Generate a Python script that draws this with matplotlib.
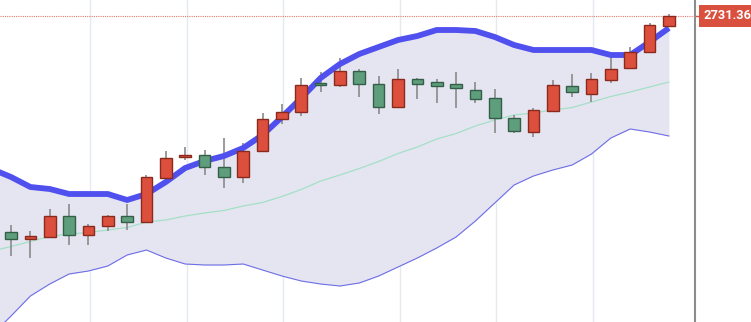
import matplotlib
matplotlib.use("Agg")
import matplotlib.pyplot as plt
from matplotlib.patches import Rectangle
from matplotlib.lines import Line2D
import matplotlib.transforms as mtransforms

# ---- data ----
opens  = [2515.3, 2508.3, 2510.3, 2531.0, 2512.3, 2521.3, 2531.0, 2525.3, 2569.3, 2589.7,
          2591.7, 2580.3, 2570.3, 2596.3, 2628.0, 2635.3, 2663.7, 2662.0, 2676.0, 2663.0,
          2640.3, 2667.7, 2664.7, 2662.7, 2657.0, 2648.7, 2629.3, 2615.3, 2636.3, 2661.0,
          2653.5, 2667.0, 2678.7, 2695.3, 2721.0]
highs  = [2521.7, 2515.7, 2537.7, 2543.0, 2523.0, 2532.0, 2543.0, 2572.0, 2596.3, 2599.7,
          2597.0, 2608.7, 2603.7, 2633.7, 2642.7, 2668.7, 2675.3, 2688.7, 2677.7, 2671.0,
          2677.7, 2669.3, 2667.7, 2675.3, 2664.7, 2658.0, 2632.0, 2638.7, 2667.0, 2672.7,
          2673.7, 2692.0, 2700.3, 2723.7, 2733.0]
lows   = [2491.0, 2488.7, 2510.3, 2501.7, 2501.7, 2516.3, 2517.0, 2525.3, 2569.3, 2587.0,
          2572.0, 2559.3, 2563.7, 2595.3, 2622.7, 2631.0, 2655.3, 2660.3, 2650.3, 2633.0,
          2639.7, 2647.7, 2644.3, 2639.3, 2644.3, 2613.7, 2613.7, 2610.3, 2636.3, 2650.3,
          2645.3, 2663.7, 2678.0, 2695.3, 2721.0]
closes = [2508.0, 2511.0, 2531.0, 2512.3, 2521.3, 2531.0, 2525.3, 2570.3, 2588.7, 2592.0,
          2579.7, 2570.3, 2596.3, 2628.0, 2635.3, 2662.0, 2662.0, 2676.0, 2663.0, 2640.3,
          2667.7, 2663.0, 2660.7, 2658.7, 2648.0, 2628.7, 2616.0, 2637.0, 2662.0, 2654.7,
          2667.7, 2678.0, 2695.3, 2722.0, 2731.36]

# Bollinger bands (first value belongs to the bar before the first visible candle)
band_upper = [2578, 2570, 2560, 2558, 2553, 2553, 2553, 2547, 2553, 2565, 2579,
              2586, 2591, 2599, 2612, 2630, 2649, 2669, 2683, 2693, 2700,
              2707, 2711, 2717, 2717, 2716, 2710, 2702, 2697, 2697, 2697,
              2697, 2692, 2692, 2705, 2719]
band_mid   = [2496, 2500.5, 2505.5, 2510.5, 2513, 2514.5, 2517, 2519.5, 2525, 2527, 2531,
              2534, 2536.5, 2541, 2544.5, 2550.5, 2557.5, 2566, 2572, 2578.5, 2585.5,
              2593.5, 2600, 2608, 2613.5, 2621, 2627, 2632, 2634, 2637, 2639.5,
              2645, 2650.5, 2655, 2660, 2665]
band_lower = [2412, 2431, 2451, 2463, 2473, 2476, 2481, 2492, 2497, 2489, 2483,
              2482, 2482, 2483, 2477, 2471, 2466, 2463, 2461, 2464, 2471,
              2480, 2489, 2499, 2510, 2526, 2544, 2562, 2571, 2577, 2582,
              2593, 2609, 2618, 2615, 2611]

grid_idx = [4, 9, 14, 20, 25, 30]
last_price = 2731.36
last_label = "2731.36"

# ---- style ----
UP_FILL, UP_EDGE = "#dc4f3c", "#8a2a1e"
DN_FILL, DN_EDGE = "#5f9e7c", "#335e47"
WICK = "#8a8a8a"
LABEL_RED = "#d9503f"

fig = plt.figure(figsize=(7.51, 3.22), dpi=100)
ax = fig.add_axes([0, 0, 695 / 751, 1])
ax.set_xlim(-0.57, 35.35)
ax.set_ylim(2425, 2747)

for g in grid_idx:
    ax.axvline(g + 0.08, color="#e4eaef", lw=1.0, zorder=0)

bx = list(range(-1, len(closes)))
ax.fill_between(bx, band_lower, band_upper, color="#e5e5f1", lw=0, zorder=1)
ax.plot(bx, band_mid, color="#a3e0c6", lw=0.9, zorder=2)
ax.plot(bx, band_lower, color="#6e6ee8", lw=0.8, zorder=2)
ax.plot(bx, band_upper, color="#5050ef", lw=4.2, zorder=4, solid_capstyle="butt")

w = 0.6
for i, (o, h, l, c) in enumerate(zip(opens, highs, lows, closes)):
    up = c >= o
    fc, ec = (UP_FILL, UP_EDGE) if up else (DN_FILL, DN_EDGE)
    ax.vlines(i, l, h, color=WICK, lw=1.2, zorder=3)
    bot, top = min(o, c), max(o, c)
    ax.add_patch(Rectangle((i - w / 2, bot), w, max(top - bot, 0.8),
                           facecolor=fc, edgecolor=ec, lw=1.0, zorder=5))

ax.axhline(last_price, color="#e07a70", lw=0.8, ls=(0, (1, 1)), zorder=1)

for s in ["top", "left", "bottom"]:
    ax.spines[s].set_visible(False)
ax.spines["right"].set_color("#8c8c8c")
ax.spines["right"].set_linewidth(1.5)
ax.set_xticks([])
ax.set_yticks([])

trans = mtransforms.blended_transform_factory(ax.transAxes, ax.transData)
tick = Line2D([1.0, 1.007], [last_price, last_price], transform=trans,
              color=LABEL_RED, lw=1.0, clip_on=False)
ax.add_line(tick)
ax.text(1.0125, last_price, last_label, transform=trans, ha="left", va="center",
        color="white", fontsize=9.3, fontweight="bold", family=["Roboto", "DejaVu Sans"],
        bbox=dict(boxstyle="square,pad=0.35", fc=LABEL_RED, ec="none"), clip_on=False)

fig.savefig("out.png", dpi=100)
